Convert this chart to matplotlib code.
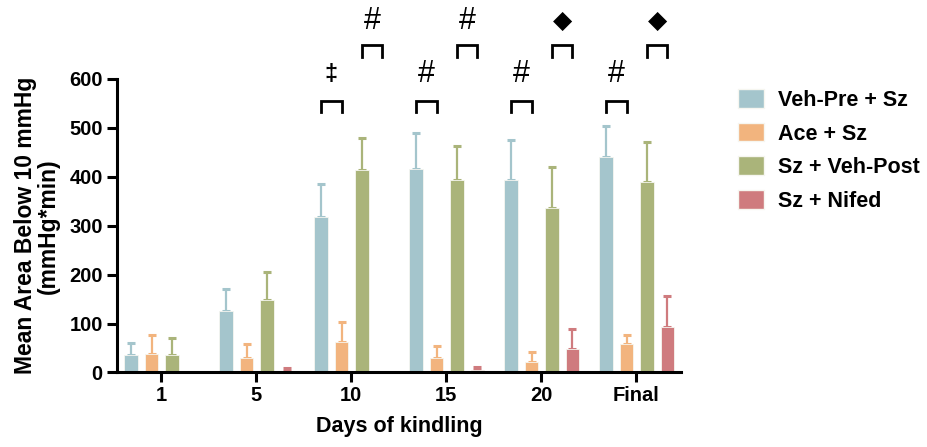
import matplotlib
matplotlib.use("Agg")
import matplotlib.pyplot as plt
import numpy as np
from matplotlib.patches import Patch

categories = ["1", "5", "10", "15", "20", "Final"]
groups = ["Veh-Pre + Sz", "Ace + Sz", "Sz + Veh-Post", "Sz + Nifed"]
veh_pre = [35, 126, 318, 416, 393, 441]
veh_pre_err = [25, 45, 67, 73, 82, 63]
ace = [37, 30, 63, 29, 21, 58]
ace_err = [40, 29, 40, 26, 21, 19]
sz_veh = [35, 148, 414, 393, 337, 390]
sz_veh_err = [35, 58, 66, 69, 83, 82]
nifed = [0, 4, 2, 5.5, 47, 94]
nifed_err = [0, 6, 0, 6.5, 41, 63]
colors = ["#A4C5CC", "#F2B47E", "#AAB47A", "#CF7B7E"]

# annotations: (category index, row, symbol) row 0 = Veh-Pre vs Ace, row 1 = Sz+Veh vs Nifed
annots = [(2, 0, "‡"), (2, 1, "#"), (3, 0, "#"), (3, 1, "#"),
          (4, 0, "#"), (4, 1, "◆"), (5, 0, "#"), (5, 1, "◆")]

plt.rcParams['font.family'] = ['Liberation Sans', 'DejaVu Sans']
plt.rcParams['font.weight'] = 'bold'

fig = plt.figure(figsize=(9.28, 4.47), dpi=100)
ax = fig.add_axes([0.1258, 0.1667, 0.608, 0.6566])

x = np.arange(len(categories))
spacing = 0.215
width = 0.144
offs = [-1.5, -0.5, 0.5, 1.5]
shift = 0.005
series = [(veh_pre, veh_pre_err), (ace, ace_err), (sz_veh, sz_veh_err), (nifed, nifed_err)]
for i, (vals, errs) in enumerate(series):
    xs = x + shift + offs[i] * spacing
    ax.bar(xs, vals, width=width, color=colors[i], edgecolor="#F6F6F0", linewidth=0.6, zorder=2)
    v = np.array(vals, float)
    e = np.array(errs, float)
    mask = e > 0
    ax.errorbar(xs[mask], v[mask], yerr=[np.zeros(mask.sum()), e[mask]], fmt="none",
                ecolor=colors[i], elinewidth=1.6, capsize=2.6, capthick=2.2, zorder=1)

ax.set_xlim(-0.47, 5.47)
ax.set_ylim(0, 600)
ax.set_yticks([0, 100, 200, 300, 400, 500, 600])
ax.set_xticks(x)
ax.set_xticklabels(categories)
for s in ["top", "right"]:
    ax.spines[s].set_visible(False)
for s in ["left", "bottom"]:
    ax.spines[s].set_linewidth(2.2)
ax.tick_params(axis="both", width=2.2, length=7, labelsize=14.5, direction="out", pad=3)
for lab in ax.get_xticklabels() + ax.get_yticklabels():
    lab.set_fontweight("bold")

ax.set_ylabel("Mean Area Below 10 mmHg\n(mmHg*min)", fontsize=16.5, fontweight="bold", labelpad=7, linespacing=1.0)
ax.set_xlabel("Days of kindling", fontsize=15.5, fontweight="bold", labelpad=8)

# significance brackets
rows = {0: (533, 556, 610), 1: (645, 669, 718)}
for ci, row, sym in annots:
    if row == 0:
        xa = x[ci] + shift + offs[0] * spacing
        xb = x[ci] + shift + offs[1] * spacing
    else:
        xa = x[ci] + shift + offs[2] * spacing
        xb = x[ci] + shift + offs[3] * spacing
    y0, y1, ys = rows[row]
    ax.plot([xa, xa, xb, xb], [y0, y1, y1, y0], color="black", lw=2.0, clip_on=False,
            solid_joinstyle="miter")
    if sym == "◆":
        ax.text((xa + xb) / 2, ys, sym, ha="center", va="center", fontsize=18,
                family=['DejaVu Sans'], fontweight="normal", clip_on=False)
    elif sym == "‡":
        ax.text((xa + xb) / 2, ys, sym, ha="center", va="center", fontsize=17,
                fontweight="bold", clip_on=False)
    else:
        ax.text((xa + xb) / 2, ys, sym, ha="center", va="center", fontsize=22,
                fontweight="normal", clip_on=False)

handles = [Patch(facecolor=c, edgecolor="#F6F6F0") for c in colors]
leg = fig.legend(handles, groups, loc="upper left", bbox_to_anchor=(0.795, 0.80), frameon=False,
                 fontsize=15.5, handlelength=1.2, handleheight=0.95, labelspacing=0.55,
                 handletextpad=0.65, borderaxespad=0, borderpad=0)
for t in leg.get_texts():
    t.set_fontweight("bold")

fig.savefig("out.png", dpi=100)
